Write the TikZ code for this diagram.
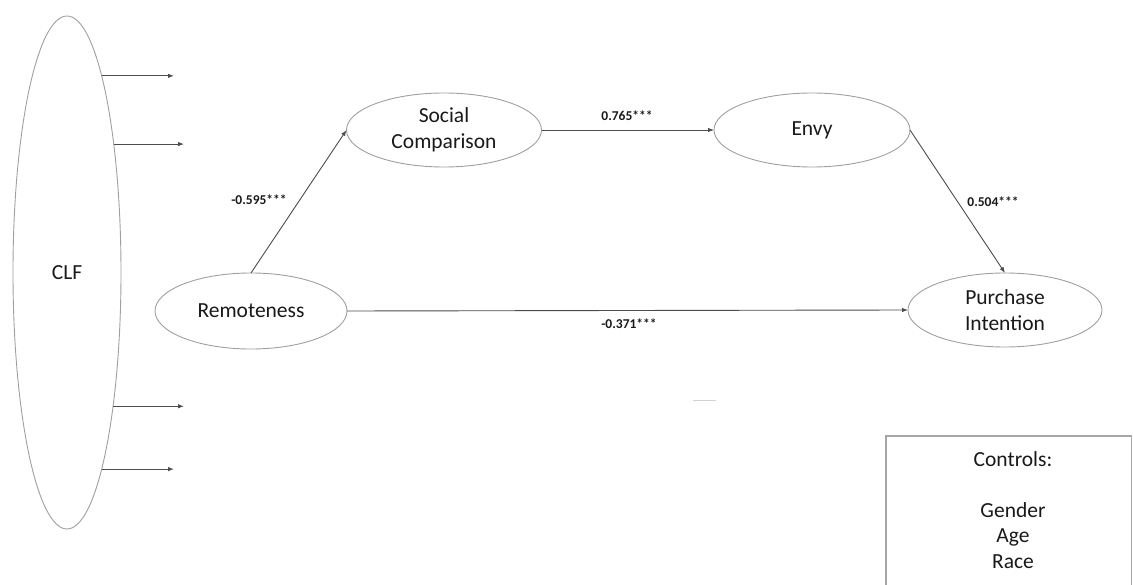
\documentclass[tikz,border=0pt]{standalone}
\usepackage{fontspec}
\setmainfont{Carlito}
\usetikzlibrary{shapes.geometric,arrows.meta}

\tikzset{
  latent/.style={draw=gray!75, line width=0.9pt, ellipse, inner sep=0pt, outer sep=0pt,
    align=center, text=black!90, font=\fontsize{21.5}{26}\selectfont},
  path/.style={draw=black!70, line width=0.9pt, -{Latex[length=6pt,width=4.5pt]}},
  coef/.style={text=black!90, font=\bfseries\fontsize{13.5}{15}\selectfont, inner sep=1pt},
}

\begin{document}
\begin{tikzpicture}[x=1pt, y=-1pt]
  \useasboundingbox (0,0) rectangle (1133,585);

  % latent constructs
  \node[latent, minimum width=108pt, minimum height=513pt] (clf) at (67,272.5) {CLF};
  \node[latent, minimum width=192pt, minimum height=76pt] (rem) at (251,311) {Remoteness};
  \node[latent, minimum width=195pt, minimum height=74pt] (sc) at (444,130) {Social\\Comparison};
  \node[latent, minimum width=196pt, minimum height=74pt] (envy) at (812,130) {Envy};
  \node[latent, minimum width=194pt, minimum height=74pt] (pi) at (1005,310) {Purchase\\Intention};

  % loose ends of the common latent factor indicators
  \coordinate (xa) at (174,0);
  \coordinate (xb) at (184,0);
  \coordinate (c1) at (clf.80.15 -| xa);
  \coordinate (c2) at (clf.70.3 -| xb);
  \coordinate (c3) at (clf.-71.3 -| xb);
  \coordinate (c4) at (clf.-80.3 -| xa);
  \draw[path] (clf.80.15) -- (c1);
  \draw[path] (clf.70.3) -- (c2);
  \draw[path] (clf.-71.3) -- (c3);
  \draw[path] (clf.-80.3) -- (c4);

  % structural paths
  \draw[path] (rem.north) -- (sc.west);
  \draw[path] (sc.east) -- (envy.west);
  \draw[path] (envy.east) -- (pi.north);
  \draw[path] (rem.east) -- (pi.west);

  % path coefficients
  \node[coef] (l1) at (259,200) {-0.595***};
  \node[coef] (l2) at (627,116) {0.765***};
  \node[coef] (l3) at (993,202) {0.504***};
  \node[coef] (l4) at (629,324) {-0.371***};

  % stray mark
  \draw[gray!35, line width=1pt] (693,400) -- (716,400);

  % control variables box
  \draw[gray!70, line width=1.2pt] (886,590) -- (886,436) -- (1131.5,436) -- (1131.5,590);
  \node[align=center, text=black!90, font=\fontsize{21.5}{25.5}\selectfont, anchor=north]
    (ctrl) at (1013,448) {Controls:\\[25.5pt]Gender\\Age\\Race};
\end{tikzpicture}
\end{document}
